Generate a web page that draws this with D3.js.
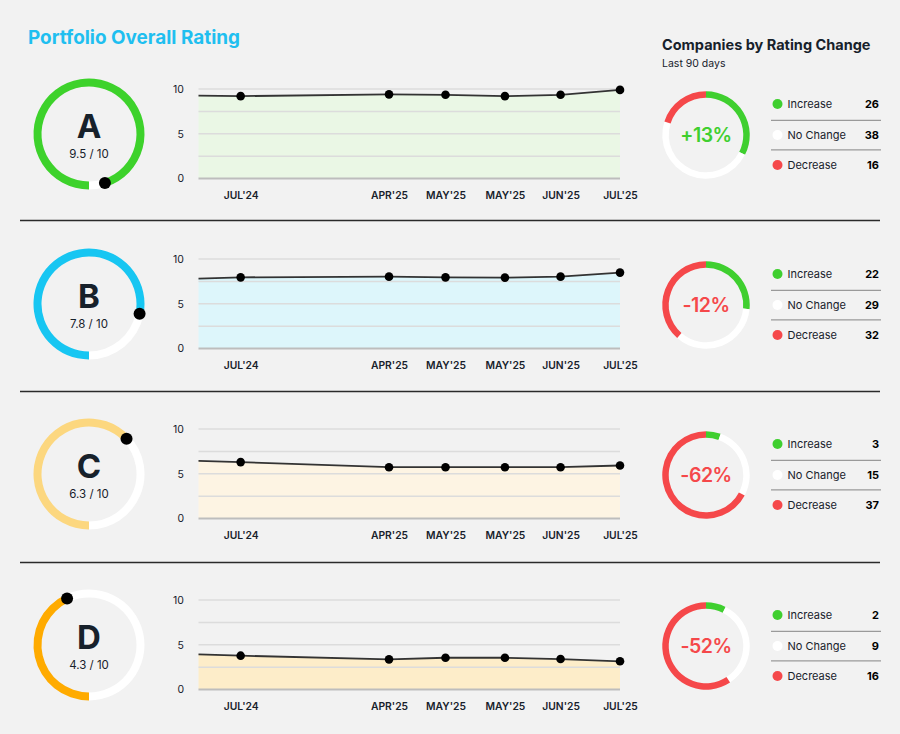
<!DOCTYPE html>
<html>
<head>
<meta charset="utf-8">
<script src="https://cdn.jsdelivr.net/npm/d3@7"></script>
<style>
  html, body { margin: 0; padding: 0; background: #f2f2f2; }
  svg { display: block; font-family: Inter, "Noto Sans", sans-serif; }
</style>
</head>
<body>
<svg id="chart" width="900" height="734"></svg>
<script>
// ---------------- DATA ----------------
const grades = ["A", "B", "C", "D"];
const scores = [9.5, 7.8, 6.3, 4.3];
const maxScore = 10;
const xLabels = ["JUL'24", "APR'25", "MAY'25", "MAY'25", "JUN'25", "JUL'25"];
const xPositions = [10, 45.2, 58.6, 72.7, 85.9, 100]; // timeline position (% of span)
const seriesA = [9.2, 9.4, 9.35, 9.2, 9.35, 9.9];
const seriesB = [7.95, 8.03, 7.95, 7.92, 8.03, 8.48];
const seriesC = [6.3, 5.73, 5.73, 5.73, 5.73, 5.92];
const seriesD = [3.78, 3.37, 3.55, 3.55, 3.4, 3.15];
const leadValues = [9.25, 7.8, 6.44, 3.93]; // value at the left edge of each chart
const yTickValues = [0, 5, 10];
const gridValues = [0, 2.5, 5, 7.5, 10];
const legendLabels = ["Increase", "No Change", "Decrease"];
const increaseCounts = [26, 22, 3, 2];
const noChangeCounts = [38, 29, 15, 9];
const decreaseCounts = [16, 32, 37, 16];
const changeLabels = ["+13%", "-12%", "-62%", "-52%"];

// ---------------- STYLE ----------------
const gaugeColors = ["#3dd22b", "#17c6f2", "#fcd77f", "#ffab00"];
const areaColors = ["#eaf7e5", "#ddf6fb", "#fdf4e3", "#fdedc9"];
const changeColors = { Increase: "#3fcf2f", "No Change": "#ffffff", Decrease: "#f5484a" };
const dark = "#17212b";
const FONT = "Inter, 'Noto Sans', sans-serif";
const rowOffsets = [0, 170, 340, 511];

const series = [seriesA, seriesB, seriesC, seriesD];
const svg = d3.select("#chart");

svg.append("text").attr("x", 28).attr("y", 44)
  .attr("fill", "#1fbff0").attr("font-size", 18.9).attr("font-weight", 700)
  .text("Portfolio Overall Rating");

svg.append("text").attr("x", 662).attr("y", 49.5)
  .attr("fill", dark).attr("font-size", 14.5).attr("font-weight", 700)
  .text("Companies by Rating Change");
svg.append("text").attr("x", 662).attr("y", 67)
  .attr("fill", dark).attr("font-size", 10.5)
  .text("Last 90 days");

// dividers
[220.5, 391.5, 562.5].forEach(y => {
  svg.append("line").attr("x1", 20).attr("x2", 880).attr("y1", y).attr("y2", y)
    .attr("stroke", "#2a2a2a").attr("stroke-width", 1.3);
});

const x = d3.scaleLinear().domain([0, 100]).range([198.5, 620]);

grades.forEach((g, i) => {
  const off = rowOffsets[i];
  const row = svg.append("g").attr("transform", `translate(0,${off})`);

  // ---- gauge ----
  const gcx = 89, gcy = 134, gr = 51.5, gw = 8;
  const gauge = row.append("g").attr("transform", `translate(${gcx},${gcy})`);
  const ang = d3.scaleLinear().domain([0, maxScore]).range([Math.PI, 3 * Math.PI]);
  const arc = d3.arc().innerRadius(gr - gw / 2).outerRadius(gr + gw / 2);
  gauge.append("path").attr("d", arc({ startAngle: ang(scores[i]), endAngle: ang(maxScore) })).attr("fill", "#fff");
  gauge.append("path").attr("d", arc({ startAngle: ang(0), endAngle: ang(scores[i]) })).attr("fill", gaugeColors[i]);
  const a = ang(scores[i]);
  gauge.append("circle").attr("cx", gr * Math.sin(a)).attr("cy", -gr * Math.cos(a)).attr("r", 6).attr("fill", "#000");
  gauge.append("text").attr("x", 0).attr("y", 4).attr("text-anchor", "middle")
    .attr("fill", dark).attr("font-size", 33).attr("font-weight", 700).text(g);
  gauge.append("text").attr("x", 0).attr("y", 24).attr("text-anchor", "middle")
    .attr("fill", dark).attr("font-size", 11.5).text(`${scores[i]} / ${maxScore}`);

  // ---- line/area chart ----
  const y = d3.scaleLinear().domain([0, 10]).range([178.5, 89]);
  const ch = row.append("g");
  const pts = [{ x: 0, v: leadValues[i] }].concat(series[i].map((v, j) => ({ x: xPositions[j], v })));
  ch.append("path").datum(pts)
    .attr("d", d3.area().x(d => x(d.x)).y0(y(0)).y1(d => y(d.v)))
    .attr("fill", areaColors[i]);
  gridValues.forEach(gv => {
    ch.append("line").attr("x1", x(0)).attr("x2", x(100)).attr("y1", y(gv)).attr("y2", y(gv))
      .attr("stroke", gv === 0 ? "#bdbdbd" : "#dcdcdc").attr("stroke-width", gv === 0 ? 2 : 1.5);
  });
  ch.append("path").datum(pts)
    .attr("d", d3.line().x(d => x(d.x)).y(d => y(d.v)))
    .attr("fill", "none").attr("stroke", "#333").attr("stroke-width", 1.8);
  ch.selectAll("circle.pt").data(pts.slice(1)).join("circle")
    .attr("cx", d => x(d.x)).attr("cy", d => y(d.v)).attr("r", 4.3).attr("fill", "#000");

  const yAxis = ch.append("g").attr("transform", `translate(184,0)`)
    .call(d3.axisLeft(y).tickValues(yTickValues).tickSize(0).tickPadding(0).tickFormat(d3.format("d")));
  yAxis.select(".domain").remove();
  yAxis.selectAll("text").attr("fill", dark).attr("font-size", 10.5).attr("font-family", FONT);

  const xAxis = ch.append("g").attr("transform", `translate(0,${y(0)})`)
    .call(d3.axisBottom(x).tickValues(xPositions).tickSize(0).tickPadding(13)
      .tickFormat((d, j) => xLabels[j]));
  xAxis.select(".domain").remove();
  xAxis.selectAll("text").attr("fill", dark).attr("font-size", 10.3).attr("font-weight", 600)
    .attr("font-family", FONT);

  // ---- change donut ----
  const dcx = 706, dcy = 135, dr = 40.5, dw = 6.5;
  const donut = row.append("g").attr("transform", `translate(${dcx},${dcy})`);
  const counts = [increaseCounts[i], noChangeCounts[i], decreaseCounts[i]];
  const pie = d3.pie().sort(null).value(d => d.c);
  const darc = d3.arc().innerRadius(dr - dw / 2).outerRadius(dr + dw / 2);
  donut.selectAll("path").data(pie(legendLabels.map((l, j) => ({ l, c: counts[j] })))).join("path")
    .attr("d", darc).attr("fill", d => changeColors[d.data.l]);
  donut.append("text").attr("x", 0).attr("y", 7).attr("text-anchor", "middle")
    .attr("fill", changeLabels[i].startsWith("+") ? changeColors.Increase : changeColors.Decrease)
    .attr("font-size", 19.5).attr("font-weight", 600).attr("letter-spacing", -0.5).text(changeLabels[i]);

  // ---- legend ----
  const ly = [104, 135, 165];
  legendLabels.forEach((l, j) => {
    row.append("circle").attr("cx", 777.5).attr("cy", ly[j]).attr("r", 5).attr("fill", changeColors[l]);
    row.append("text").attr("x", 787.5).attr("y", ly[j] + 4).attr("fill", dark).attr("font-size", 11).text(l);
    row.append("text").attr("x", 879).attr("y", ly[j] + 4).attr("text-anchor", "end")
      .attr("fill", "#000").attr("font-size", 11).attr("font-weight", 700).text(counts[j]);
  });
  [120.3, 149.8].forEach(sy => {
    row.append("line").attr("x1", 771).attr("x2", 881).attr("y1", sy).attr("y2", sy)
      .attr("stroke", "#9a9a9a").attr("stroke-width", 1.3);
  });
});
</script>
</body>
</html>
